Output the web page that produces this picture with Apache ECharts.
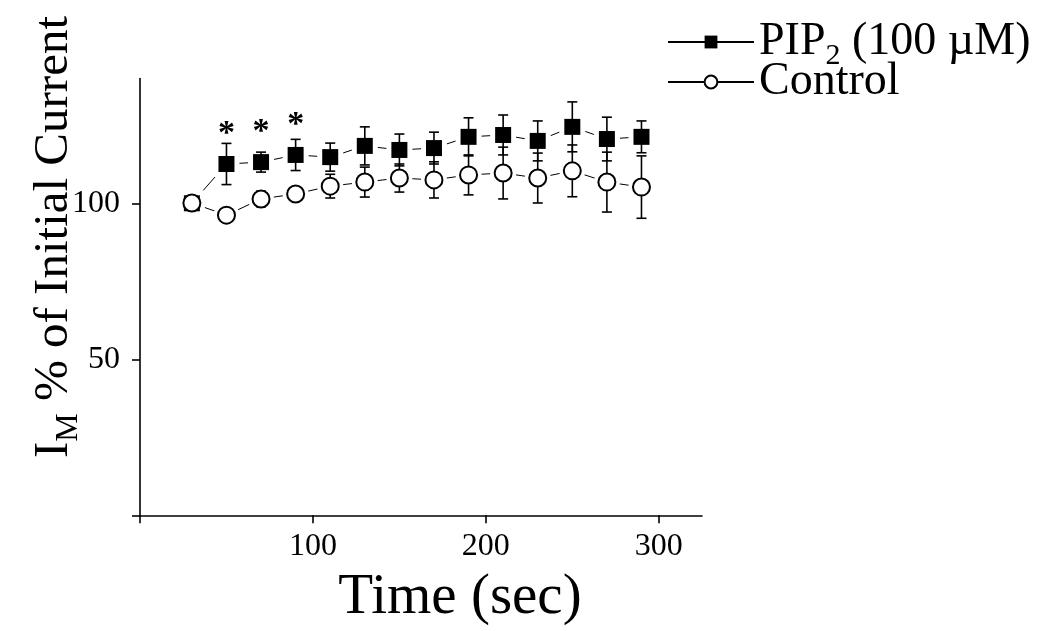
<!DOCTYPE html>
<html><head><meta charset="utf-8">
<script src="https://cdn.jsdelivr.net/npm/echarts@6/dist/echarts.min.js"></script>
<style>html,body{margin:0;padding:0;background:#fff}#c{width:1048px;height:631px}</style>
</head><body><div id="c"></div>
<script>
// ---- data ----
const times    = [30, 50, 70, 90, 110, 130, 150, 170, 190, 210, 230, 250, 270, 290];
const pip2Mean = [100, 112.6, 113.2, 115.5, 114.8, 118.4, 117.1, 117.7, 121.3, 121.9, 120, 124.5, 120.6, 121.3];
const pip2Err  = [0, 6.6, 3.2, 5, 4.5, 6.1, 5.1, 5.1, 6.1, 6.4, 6.4, 8, 7, 5.1];
const pip2Sig  = [0, 1, 1, 1, 0, 0, 0, 0, 0, 0, 0, 0, 0, 0];
const ctrlMean = [100.1, 96.2, 101.4, 103, 105.5, 106.8, 108.1, 107.5, 109.1, 109.7, 108.1, 110.4, 106.8, 105.2];
const ctrlErr  = [1, 2, 2.5, 1.5, 3.8, 4.8, 4.5, 5.8, 6.4, 8.3, 8, 8.3, 9.6, 10];
const xTickValues  = [0, 100, 200, 300];
const xLabelValues = [100, 200, 300];
const yTickValues  = [0, 50, 100];
const yLabelValues = [50, 100];
const seriesNames  = ['PIP2 (100 µM)', 'Control'];

const FONT = '"Liberation Serif", "Times New Roman", serif';
const pip2Data = times.map((t, i) => [t, pip2Mean[i], pip2Err[i], pip2Sig[i]]);
const ctrlData = times.map((t, i) => [t, ctrlMean[i], ctrlErr[i], 0]);

function haloRender(shape) {
  return function (params, api) {
    const c = api.coord([api.value(0), api.value(1)]);
    if (shape === 'square') {
      return {type: 'rect', shape: {x: c[0] - 13, y: c[1] - 13, width: 26, height: 26}, style: {fill: '#fff'}};
    }
    return {type: 'circle', shape: {cx: c[0], cy: c[1], r: 13}, style: {fill: '#fff'}};
  };
}
function markRender(shape) {
  return function (params, api) {
    const x = api.value(0), m = api.value(1), e = api.value(2), s = api.value(3);
    const c = api.coord([x, m]);
    const children = [];
    if (e > 0) {
      const t = api.coord([x, m + e]), b = api.coord([x, m - e]);
      const ls = {stroke: '#000', lineWidth: 1.6};
      children.push({type: 'line', shape: {x1: c[0], y1: t[1], x2: c[0], y2: b[1]}, style: ls});
      children.push({type: 'line', shape: {x1: c[0] - 5, y1: t[1], x2: c[0] + 5, y2: t[1]}, style: ls});
      children.push({type: 'line', shape: {x1: c[0] - 5, y1: b[1], x2: c[0] + 5, y2: b[1]}, style: ls});
    }
    if (shape === 'square') {
      children.push({type: 'rect', shape: {x: c[0] - 8, y: c[1] - 8, width: 16, height: 16}, style: {fill: '#000'}});
    } else {
      children.push({type: 'circle', shape: {cx: c[0], cy: c[1], r: 8.5}, style: {fill: '#fff', stroke: '#000', lineWidth: 2}});
    }
    if (s) {
      children.push({type: 'text', x: c[0], y: c[1] - 30,
        style: {text: '*', fill: '#000', font: 'bold 34px ' + FONT, align: 'center', verticalAlign: 'middle'}});
    }
    return {type: 'group', children: children};
  };
}

const chart = echarts.init(document.getElementById('c'), null, {renderer: 'canvas'});
chart.setOption({
  backgroundColor: '#fff',
  animation: false,
  grid: {left: 140, right: 346, top: 78.5, bottom: 115.7, containLabel: false, outerBoundsMode: 'none'},
  legend: {
    orient: 'vertical', left: 662, top: 8, itemGap: -12,
    itemWidth: 86, itemHeight: 16,
    data: seriesNames,
    formatter: function (n) {
      return n === seriesNames[0] ? '{a|PIP}{s|2}{a| (100 µM)}' : '{a|' + n + '}';
    },
    textStyle: {
      color: '#000', fontFamily: FONT, fontSize: 46, lineHeight: 42,
      rich: {
        a: {fontFamily: FONT, fontSize: 46, lineHeight: 42, color: '#000'},
        s: {fontFamily: FONT, fontSize: 30, lineHeight: 10, padding: [28, 0, 0, 0], color: '#000'}
      }
    }
  },
  xAxis: {
    type: 'value', min: 0, max: 325,
    axisLine: {onZero: false, lineStyle: {color: '#000', width: 1.6}},
    axisTick: {customValues: xTickValues, length: 8, lineStyle: {color: '#000', width: 1.6}},
    axisLabel: {customValues: xLabelValues, color: '#000', fontFamily: FONT, fontSize: 32, margin: 15},
    splitLine: {show: false}
  },
  yAxis: {
    type: 'value', min: 0, max: 140,
    axisLine: {show: true, lineStyle: {color: '#000', width: 1.6}},
    axisTick: {show: true, customValues: yTickValues, length: 8, lineStyle: {color: '#000', width: 1.6}},
    axisLabel: {customValues: yLabelValues, color: '#000', fontFamily: FONT, fontSize: 32, margin: 20},
    splitLine: {show: false}
  },
  graphic: [
    {type: 'text', x: 54, y: 237, rotation: Math.PI / 2,
      style: {text: '{a|I}{s|M}{a| % of Initial Current}', align: 'center', verticalAlign: 'middle', fill: '#000',
        rich: {
          a: {fontFamily: FONT, fontSize: 49, lineHeight: 50, fill: '#000'},
          s: {fontFamily: FONT, fontSize: 32, lineHeight: 10, padding: [30, 0, 0, 0], fill: '#000'}
        }}},
    {type: 'text', x: 460, y: 598,
      style: {text: 'Time (sec)', font: '57px ' + FONT, fill: '#000', align: 'center', verticalAlign: 'middle'}}
  ],
  series: [
    {name: seriesNames[0], type: 'line', data: pip2Data, symbol: 'rect', showSymbol: false, z: 1,
      itemStyle: {color: '#000'}, lineStyle: {color: '#000', width: 1}, silent: true},
    {name: seriesNames[1], type: 'line', data: ctrlData, symbol: 'emptyCircle', showSymbol: false, z: 1,
      itemStyle: {color: '#000'}, lineStyle: {color: '#000', width: 1}, silent: true},
    {type: 'custom', name: 'pip2-halo', data: pip2Data, renderItem: haloRender('square'), z: 2, silent: true},
    {type: 'custom', name: 'ctrl-halo', data: ctrlData, renderItem: haloRender('circle'), z: 2, silent: true},
    {type: 'custom', name: 'pip2-marks', data: pip2Data, renderItem: markRender('square'), z: 3, silent: true},
    {type: 'custom', name: 'ctrl-marks', data: ctrlData, renderItem: markRender('circle'), z: 4, silent: true}
  ]
});
</script>
</body></html>
